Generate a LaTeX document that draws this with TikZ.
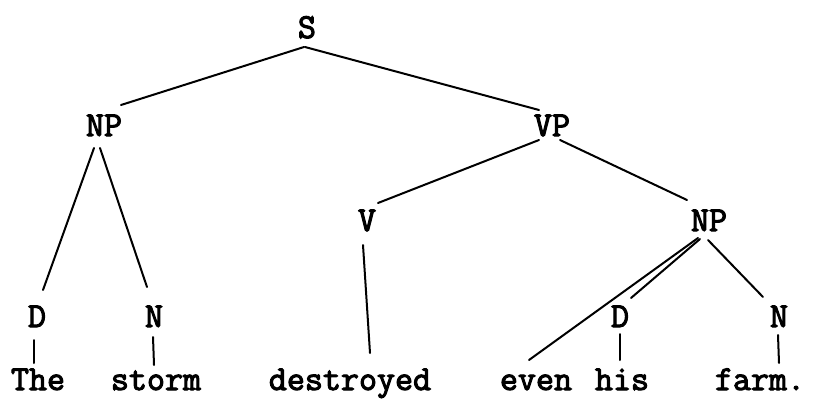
\documentclass[tikz,border=0pt]{standalone}
\usepackage{fontspec}
\newfontfamily\typew[FakeBold=3]{Latin Modern Mono}
\usetikzlibrary{calc}
\begin{document}
\begin{tikzpicture}[x=1pt,y=-1pt,
  lab/.style={font=\typew\fontsize{35}{35}\selectfont, inner sep=0pt, anchor=base},
  edge/.style={line width=2pt, line cap=round}]
\useasboundingbox (0,0) rectangle (814,405);
% categories
\node[lab] (S)   at (307,38)  {S};
\node[lab] (NPl) at (104,136) {NP};
\node[lab] (VP)  at (552,136) {VP};
\node[lab] (V)   at (367,231) {V};
\node[lab] (NPr) at (709,231) {NP};
\node[lab] (Dl)  at (37,327)  {D};
\node[lab] (Nl)  at (154,327) {N};
\node[lab] (Dr)  at (620,327) {D};
\node[lab] (Nr)  at (779,327) {N};
% words
\node[lab] (The)   at (38,390)  {The};
\node[lab] (storm) at (156,390) {storm};
\node[lab] (destr) at (350,390) {destroyed};
\node[lab] (even)  at (536,390) {even};
\node[lab] (his)   at (622,390) {his};
\node[lab] (farm)  at (760,390) {farm.};
% connectors
\draw[edge] ($(S.base)+(-3,9)$) -- ($(NPl.base)+(17,-31)$);
\draw[edge] ($(S.base)+(-2,9)$) -- ($(VP.base)+(-13,-26)$);
\draw[edge] ($(NPl.base)+(-10,12)$) -- ($(Dl.base)+(6,-37)$);
\draw[edge] ($(NPl.base)+(-4,12)$) -- ($(Nl.base)+(-7,-40)$);
\draw[edge] ($(VP.base)+(-13,4)$) -- ($(V.base)+(11,-28)$);
\draw[edge] ($(VP.base)+(8,4)$) -- ($(NPr.base)+(-22,-31)$);
\draw[edge] ($(V.base)+(-4,14)$) -- ($(destr.base)+(20,-37)$);
\draw[edge] ($(NPr.base)+(-11,7)$) -- ($(even.base)+(-7,-30)$);
\draw[edge] ($(NPr.base)+(-9,8)$) -- ($(Dr.base)+(11,-29)$);
\draw[edge] ($(NPr.base)+(-1,9)$) -- ($(Nr.base)+(-16,-30)$);
\draw[edge] ($(Dl.base)+(-3,13)$) -- ($(The.base)+(-4,-27)$);
\draw[edge] ($(Nl.base)+(-1,10)$) -- ($(storm.base)+(-2,-25)$);
\draw[edge] ($(Dr.base)+(0,7)$) -- ($(his.base)+(-2,-30)$);
\draw[edge] ($(Nr.base)+(-1,8)$) -- ($(farm.base)+(19,-27)$);
\end{tikzpicture}
\end{document}
